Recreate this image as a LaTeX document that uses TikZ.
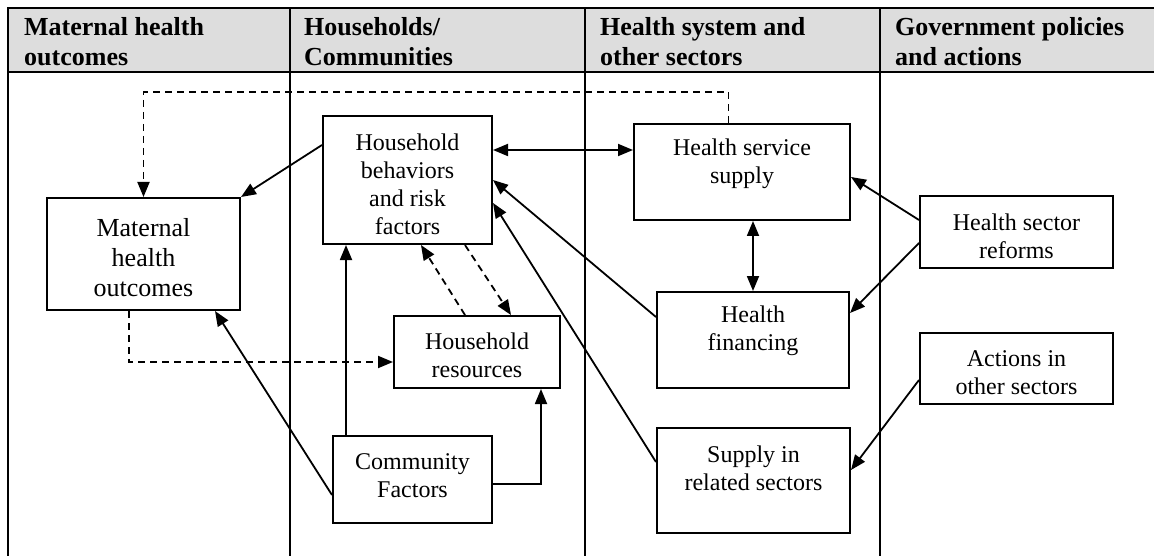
\documentclass[tikz,border=0pt]{standalone}
\usepackage{fontspec}
\setmainfont{Liberation Serif}
\usetikzlibrary{arrows.meta,calc}
\definecolor{headgray}{RGB}{221,221,221}

\begin{document}
\begin{tikzpicture}[x=1pt,y=-1pt,>={Triangle[length=15pt,width=12pt]}]
 \tikzstyle{box}=[draw,line width=2pt,inner sep=0pt]
 \tikzstyle{boxtxt}=[align=center,inner sep=0pt,font=\fontsize{24}{28}\selectfont]
 \tikzstyle{head}=[anchor=north west,align=left,inner sep=0pt,font=\fontsize{26}{30}\selectfont\bfseries]
 \tikzstyle{link}=[->,line width=1.8pt]
 \tikzstyle{dlink}=[link,dash pattern=on 7pt off 5pt]

 \clip (0,0) rectangle (1154,556);
 % table
 \fill[headgray] (8,8) rectangle (1160,72);
 \draw[line width=2.8pt] (1160,8) -- (8,8) -- (8,560) (8,72) -- (1160,72)
   (290,8) -- (290,560) (585,8) -- (585,560) (880,8) -- (880,560);

 \node[head] (hdmat) at (24,17) {Maternal health\\outcomes};
 \node[head] (hdhh) at (304,17) {Households/\\Communities};
 \node[head] (hdhs) at (600,17) {Health system and\\other sectors};
 \node[head] (hdgov) at (895,17) {Government policies\\and actions};

 % boxes
 \node[box,minimum width=193pt,minimum height=112pt,label={[boxtxt,font=\fontsize{26}{30}\selectfont,yshift=-4pt]center:Maternal\\health\\outcomes}] (mat) at (143.5,254) {};
 \node[box,minimum width=169pt,minimum height=128pt,label={[boxtxt,yshift=-4pt]center:Household\\behaviors\\and risk\\factors}] (hhb) at (407.5,180) {};
 \node[box,minimum width=166pt,minimum height=72pt,label={[boxtxt,yshift=-3pt]center:Household\\resources}] (hhr) at (477,352) {};
 \node[box,minimum width=159pt,minimum height=87pt,label={[boxtxt,yshift=4pt]center:Community\\Factors}] (com) at (412.5,479.5) {};
 \node[box,minimum width=216pt,minimum height=96pt,label={[boxtxt,yshift=8pt]center:Health service\\supply}] (hss) at (742,172) {};
 \node[box,minimum width=192pt,minimum height=96pt,label={[boxtxt,yshift=9pt]center:Health\\financing}] (hf) at (753,340) {};
 \node[box,minimum width=193pt,minimum height=105pt,label={[boxtxt,yshift=12pt]center:Supply in\\related sectors}] (srs) at (753.5,480.5) {};
 \node[box,minimum width=193pt,minimum height=71pt,label={[boxtxt,yshift=-4pt]center:Health sector\\reforms}] (hsr) at (1016.5,232) {};
 \node[box,minimum width=193pt,minimum height=71pt,label={[boxtxt,yshift=-4pt]center:Actions in\\other sectors}] (aos) at (1016.5,368.5) {};

 % links
 \path[link]
   ($(hhb.west)+(0,-35)$) edge (mat.north east)
   ($(hsr.west)+(0,-12)$) edge ($(hss.east)+(0,5)$)
   ($(hsr.west)+(0,11)$) edge ($(hf.east)+(0,-27)$)
   ($(hf.west)+(0,-23)$) edge (hhb.east)
   ($(srs.west)+(0,-18.5)$) edge ($(hhb.east)+(0,23)$)
   ($(aos.west)+(0,11.5)$) edge ($(srs.east)+(0,-10.5)$)
   ($(com.west)+(0,15.5)$) edge ($(mat.south east)+(-26,0)$);
 \path[link,<->]
   ($(hhb.east)+(0,-30)$) edge ($(hss.west)+(0,-22)$)
   (hss.south -| hf.north) edge (hf.north);
 \draw[link] ($(com.north west)+(14,0)$) coordinate (c1) -- (c1 |- hhb.south);
 \draw[link] ($(com.east)+(0,4.5)$) -| ($(hhr.south east)+(-20,0)$);
 \draw[dlink] ($(hhr.north)+(-12,0)$) -- ($(hhb.south)+(13.5,0)$);
 \draw[dlink] ($(hhb.south)+(57.5,0)$) -- ($(hhr.north)+(34,0)$);
 \draw[dlink] ($(mat.south)+(-14.5,0)$) |- ($(hhr.west)+(0,10)$);
 \draw[dlink] ($(hss.north)+(-13.5,0)$) -- ++(0,-31) -| (mat.north);
\end{tikzpicture}
\end{document}
